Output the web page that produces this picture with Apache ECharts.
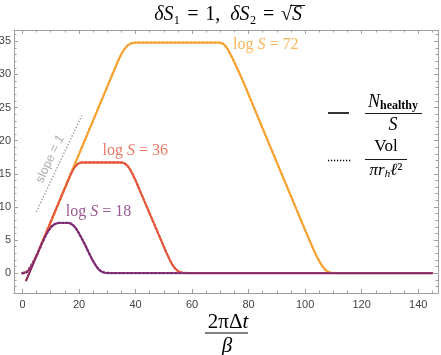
<!DOCTYPE html>
<html><head><meta charset="utf-8">
<script src="https://cdn.jsdelivr.net/npm/echarts@6/dist/echarts.min.js"></script>
<style>html,body{margin:0;padding:0;background:#fff}#c{width:441px;height:355px}</style>
</head><body><div id="c"></div>
<script>
// ---- data (x = 2πΔt/β, y = value) ----
const purpleN = [[1.2,-1.2],[3,0.6],[5,2.65],[7,4.6],[8,5.5],[9,6.3],[10,6.9],[11,7.3],[12,7.5],[13,7.6],[16,7.6],[17,7.5],[18,7.2],[19,6.7],[20,6.0],[21,5.2],[22,4.4],[23,3.5],[24,2.6],[25,1.8],[26,1.1],[27,0.55],[28,0.22],[29,0.07],[30,0.02],[32,0],[145,0]];
const redN = [[1.2,-1.2],[5,2.65],[10,7.75],[15,12.85],[16,13.85],[17,14.85],[18,15.7],[19,16.3],[20,16.6],[21,16.7],[35,16.7],[36,16.6],[37,16.3],[38,15.7],[39,14.9],[40,14.0],[43,11.0],[46,8.0],[49,5.0],[51,3.0],[52,2.1],[53,1.3],[54,0.7],[55,0.3],[56,0.1],[57,0.03],[59,0],[145,0]];
const orangeN = [[1.2,-1.2],[5,2.65],[10,7.75],[20,17.95],[30,28.15],[33,31.2],[34,32.2],[35,33.1],[36,33.8],[37,34.3],[38,34.6],[39,34.75],[40,34.8],[70,34.8],[71,34.6],[72,34.2],[73,33.5],[74,32.7],[75,31.8],[78,29.0],[85,21.8],[95,11.6],[100,6.5],[103,3.5],[104,2.6],[105,1.8],[106,1.1],[107,0.55],[108,0.22],[109,0.07],[110,0.02],[112,0],[145,0]];
const volStart = [[0,0],[1.5,0.15],[2.5,0.7],[3.5,1.4]];
const slopeLine = [[4.9,9.25],[21.0,23.8]];
const labelX = [26.9, 39.9, 86.1];
const labelY = [9.2, 18.45, 34.4];
const labelText = ['18', '36', '72'];
const slopeLabelPos = [9.8, 17.2];
const xMajor = [0,20,40,60,80,100,120,140];
const yMajor = [0,5,10,15,20,25,30,35];
const xMinor = []; for (let v = 5; v <= 145; v += 5) if (v % 20) xMinor.push(v);
const yMinor = []; for (let v = -2; v <= 36; v++) if (v % 5) yMinor.push(v);

const purple = '#7e2d74', red = '#e4573d', orange = '#f7a233';
const colors = [purple, red, orange];
const serif = '"Liberation Serif","DejaVu Serif",serif';
const frame = '#a0a0a0';

const volOf = arr => volStart.concat(arr.filter(p => p[0] >= 5));

function xAx(grid, pos, ticks, len, showLabel, showLine) {
  return {type:'value', gridIndex:grid, position:pos, min:-3, max:147,
    axisLine:{show:showLine, onZero:false, lineStyle:{color:frame, width:1}},
    axisTick:{show:true, inside:true, length:len, customValues:ticks, lineStyle:{color:frame, width:1}},
    axisLabel:{show:showLabel, customValues:xMajor, margin:6, fontSize:11, color:'#444', fontFamily:'"Liberation Sans",Arial,sans-serif'},
    splitLine:{show:false}};
}
function yAx(grid, pos, ticks, len, showLabel, showLine) {
  return {type:'value', gridIndex:grid, position:pos, min:-3, max:36.7,
    axisLine:{show:showLine, onZero:false, lineStyle:{color:frame, width:1}},
    axisTick:{show:true, inside:true, length:len, customValues:ticks, lineStyle:{color:frame, width:1}},
    axisLabel:{show:showLabel, customValues:yMajor, margin:3, fontSize:11, color:'#444', fontFamily:'"Liberation Sans",Arial,sans-serif'},
    splitLine:{show:false}};
}

const solid = (name, data, color) => ({type:'line', name, data, xAxisIndex:0, yAxisIndex:0, showSymbol:false, symbol:'none', smooth:false,
  lineStyle:{color, width:1.8}, z:3, animation:false});
const dotted = (name, data, color) => ({type:'line', name, data, xAxisIndex:0, yAxisIndex:0, showSymbol:false, symbol:'none',
  lineStyle:{color, width:2.3, type:[1.6,2.4], cap:'round'}, z:2, animation:false});

const labelSeries = {type:'scatter', xAxisIndex:0, yAxisIndex:0, symbolSize:0, animation:false, z:5,
  data: labelX.map((x,i) => ({value:[x, labelY[i]], label:{show:true, position:'inside',
    formatter:'{n|log }{i|S}{n| = ' + labelText[i] + '}',
    rich:{n:{fontFamily:serif, fontSize:16, color:colors[i]}, i:{fontFamily:serif, fontSize:16, fontStyle:'italic', color:colors[i]}}}}))};

const slopeSeries = {type:'line', data:slopeLine, xAxisIndex:0, yAxisIndex:0, showSymbol:false, symbol:'none', animation:false,
  lineStyle:{color:'#999', width:1.4, type:[1.4,1.8]}, z:1};
const slopeLabel = {type:'scatter', xAxisIndex:0, yAxisIndex:0, symbolSize:0, animation:false,
  data:[{value:slopeLabelPos, label:{show:true, position:'inside', rotate:65,
    formatter:'{n|slope = }{i|1}', rich:{n:{fontSize:12.5, color:'#999', fontFamily:'"Liberation Sans",sans-serif'}, i:{fontSize:12.5, color:'#999', fontStyle:'italic', fontFamily:'"Liberation Sans",sans-serif'}}}}]};

const chart = echarts.init(document.getElementById('c'), null, {renderer:'canvas'});
const gridRect = {left:14, right:3, top:30, bottom:62, outerBoundsMode:'none', containLabel:false};
chart.setOption({
  animation:false,
  backgroundColor:'#fff',
  grid:[Object.assign({}, gridRect), Object.assign({}, gridRect)],
  xAxis:[xAx(0,'bottom',xMajor,4,true,true), xAx(0,'top',xMajor,4,false,true), xAx(1,'bottom',xMinor,2.5,false,false), xAx(1,'top',xMinor,2.5,false,false)],
  yAxis:[yAx(0,'left',yMajor,4,true,true), yAx(0,'right',yMajor,4,false,true), yAx(1,'left',yMinor,2.5,false,false), yAx(1,'right',yMinor,2.5,false,false)],
  series:[
    slopeSeries,
    dotted('vol72', volOf(orangeN), orange),
    dotted('vol36', volOf(redN), red),
    dotted('vol18', volOf(purpleN), purple),
    solid('n72', orangeN, orange),
    solid('n36', redN, red),
    solid('n18', purpleN, purple),
    labelSeries,
    slopeLabel
  ],
  graphic:[
    {type:'text', style:{x:292, y:15, text:'{i|δS}₁\u2004=\u20041,  {i|δS}₂\u2004=\u2004√', textAlign:'right', textVerticalAlign:'middle',
      fontFamily:serif, fontSize:20, fill:'#000', rich:{i:{fontFamily:serif, fontSize:20, fontStyle:'italic', fill:'#000'}}}},
    {type:'text', style:{x:292, y:15, text:'S', textAlign:'left', textVerticalAlign:'middle',
      fontFamily:serif, fontSize:20, fontStyle:'italic', fill:'#000'}},
    {type:'line', shape:{x1:290, y1:5.5, x2:305, y2:5.5}, style:{stroke:'#000', lineWidth:0.9}},
    // x-axis name fraction
    {type:'text', style:{x:228, y:322, text:'2πΔ{i|t}', textAlign:'center', textVerticalAlign:'middle', fontFamily:serif, fontSize:21, fill:'#000',
      rich:{i:{fontFamily:serif, fontSize:21, fontStyle:'italic', fill:'#000'}}}},
    {type:'line', shape:{x1:205, y1:333, x2:248, y2:333}, style:{stroke:'#000', lineWidth:1}},
    {type:'text', style:{x:227, y:346, text:'β', textAlign:'center', textVerticalAlign:'middle', fontFamily:serif, fontSize:21, fontStyle:'italic', fill:'#000'}},
    // legend entry 1
    {type:'line', shape:{x1:328, y1:113, x2:349, y2:113}, style:{stroke:'#000', lineWidth:1.6}},
    {type:'text', style:{x:393, y:102, text:'{i|N}{s|healthy}', textAlign:'center', textVerticalAlign:'middle', fill:'#000',
      rich:{i:{fontFamily:serif, fontSize:18, fontStyle:'italic', fill:'#000', lineHeight:20, verticalAlign:'middle'},
            s:{fontFamily:serif, fontSize:12, fontWeight:'bold', fill:'#000', lineHeight:11, verticalAlign:'bottom'}}}},
    {type:'line', shape:{x1:365, y1:113.5, x2:422, y2:113.5}, style:{stroke:'#000', lineWidth:0.9}},
    {type:'text', style:{x:393, y:125, text:'S', textAlign:'center', textVerticalAlign:'middle', fontFamily:serif, fontSize:18, fontStyle:'italic', fill:'#000'}},
    // legend entry 2
    {type:'line', shape:{x1:328, y1:160.5, x2:352, y2:160.5}, style:{stroke:'#000', lineWidth:1.6, lineDash:[1.2,1.8]}},
    {type:'text', style:{x:386, y:147, text:'Vol', textAlign:'center', textVerticalAlign:'middle', fontFamily:serif, fontSize:17, fill:'#000'}},
    {type:'line', shape:{x1:365, y1:159.5, x2:407, y2:159.5}, style:{stroke:'#000', lineWidth:0.9}},
    {type:'text', style:{x:386, y:171, text:'{i|πr}{s|h}{i|ℓ}{n|²}', textAlign:'center', textVerticalAlign:'middle', fill:'#000',
      rich:{i:{fontFamily:serif, fontSize:17, fontStyle:'italic', fill:'#000', lineHeight:18, verticalAlign:'middle'},
            s:{fontFamily:serif, fontSize:11, fontStyle:'italic', fill:'#000', lineHeight:10, verticalAlign:'bottom'},
            n:{fontFamily:serif, fontSize:17, fill:'#000', lineHeight:18, verticalAlign:'middle'}}}}
  ]
});
</script></body></html>
